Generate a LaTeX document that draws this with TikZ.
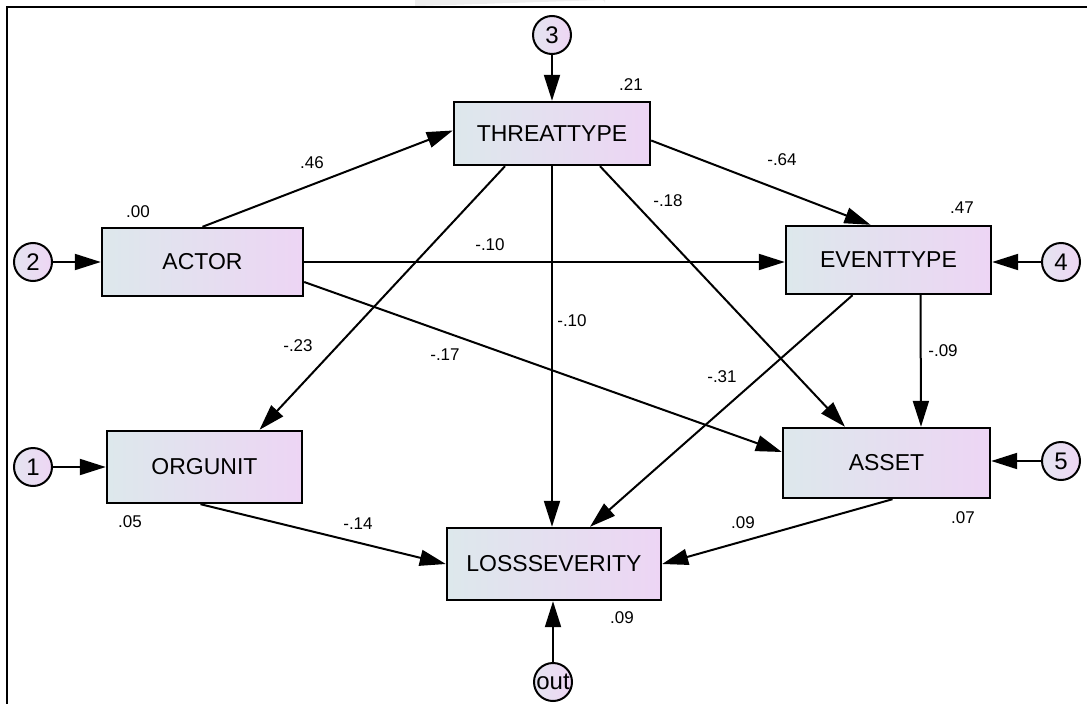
\documentclass[tikz,border=0pt]{standalone}
\usepackage{fontspec}
\setmainfont{Liberation Sans}
\usetikzlibrary{arrows.meta,calc}
\definecolor{boxL}{RGB}{221,232,236}
\definecolor{boxR}{RGB}{237,213,244}
\definecolor{circL}{RGB}{228,228,240}
\definecolor{circR}{RGB}{238,214,244}
\definecolor{tabgray}{RGB}{238,238,238}

\begin{document}
\begin{tikzpicture}[x=1pt,y=-1pt,
  var/.style={draw, line width=2.4pt, left color=boxL, right color=boxR,
              font=\fontsize{23}{27}\selectfont, inner sep=0pt},
  err/.style={draw, circle, line width=2pt, minimum size=38pt, inner sep=0pt,
              left color=circL, right color=circR, font=\fontsize{24}{28}\selectfont},
  link/.style={line width=2pt, -{Triangle[length=26pt,width=16pt]}},
  coef/.style={font=\fontsize{17}{20}\selectfont, inner sep=0pt},
]
\useasboundingbox (0,0) rectangle (1087,704);

% window frame
\fill[tabgray] (415,0) -- (605,0) -- (605,3) arc[start angle=0,end angle=90,radius=3,x radius=3,y radius=-3] -- (418,6) -- (415,6) -- cycle;
\draw[line width=1.6pt] (7,704) -- (7,7) -- (1087,7);

% observed variables
\node[var, minimum width=196pt, minimum height=63pt] (tt)  at (552,133.5) {THREATTYPE};
\node[var, minimum width=201pt, minimum height=68pt] (act) at (202.5,262) {ACTOR};
\node[var, minimum width=205pt, minimum height=68pt] (et)  at (888.5,260) {EVENTTYPE};
\node[var, minimum width=195pt, minimum height=72pt] (org) at (204.5,467) {ORGUNIT};
\node[var, minimum width=207pt, minimum height=70pt] (as)  at (886.5,463) {ASSET};
\node[var, minimum width=214pt, minimum height=72pt] (ls)  at (554,564) {LOSSSEVERITY};

% error terms
\node[err] (e3) at (552,35) {3};
\node[err] (e2) at (33,262) {2};
\node[err] (e4) at (1061,262) {4};
\node[err] (e1) at (33,467) {1};
\node[err] (e5) at (1061,461) {5};
\node[err] (eo) at (553,682) {out};

% error paths
\draw[link] (e3) -- (tt.north);
\draw[link] (e2) -- (act.west);
\draw[link] (e4) -- (e4 -| et.east);
\draw[link] (e1) -- (org.west);
\draw[link] (e5) -- (e5 -| as.east);
\draw[link] (eo) -- (eo |- ls.south);

% structural paths
\draw[link] (act.north) -- ($(tt.west)+(0,-3)$);
\draw[link] ($(tt.east)+(0,7)$) -- ($(et.north)+(-18,0)$);
\draw[link] (act.east) -- (act.east -| et.west);
\draw[link] ($(tt.south)+(-47,0)$) -- ($(org.north)+(55,0)$);
\draw[link] (tt.south) -- (tt.south |- ls.north);
\draw[link] ($(tt.south)+(48,0)$) -- ($(as.north)+(-41.5,0)$);
\draw[link] ($(act.east)+(0,20)$) -- ($(as.west)+(0,-11)$);
\draw[link] ($(et.south)+(-36,0)$) -- ($(ls.north)+(36,0)$);
\draw[link] ($(et.south)+(32,0)$) -- ($(as.north)+(34.5,0)$);
\draw[link] ($(org.south)+(-4,0)$) -- (ls.west);
\draw[link] ($(as.south)+(6,0)$) -- (ls.east);

% path coefficients
\node[coef] (c1)  at (312,163) {.46};
\node[coef] (c2)  at (782,160) {-.64};
\node[coef] (c3)  at (490,245) {-.10};
\node[coef] (c4)  at (668,201) {-.18};
\node[coef] (c5)  at (298,346) {-.23};
\node[coef] (c6)  at (572,321) {-.10};
\node[coef] (c7)  at (445,355) {-.17};
\node[coef] (c8)  at (722,377) {-.31};
\node[coef] (c9)  at (943,351) {-.09};
\node[coef] (c10) at (358,524) {-.14};
\node[coef] (c11) at (743,523) {.09};

% squared multiple correlations
\node[coef] (r1) at (631,85)  {.21};
\node[coef] (r2) at (138,212) {.00};
\node[coef] (r3) at (962,208) {.47};
\node[coef] (r4) at (130,522) {.05};
\node[coef] (r5) at (963,518) {.07};
\node[coef] (r6) at (622,618) {.09};
\end{tikzpicture}
\end{document}
